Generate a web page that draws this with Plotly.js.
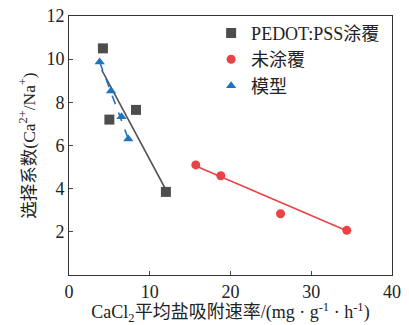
<!DOCTYPE html>
<html><head><meta charset="utf-8">
<script src="https://cdn.plot.ly/plotly-3.0.1.min.js"></script>
<style>body{margin:0;background:#fff}#c{width:409px;height:325px}</style>
</head><body><div id="c"></div>
<script>
// PEDOT:PSS coated
const pedotX = [4.2, 5.0, 8.3, 12.0];
const pedotY = [10.5, 7.2, 7.65, 3.85];
const pedotFitX = [4.05, 12.0];
const pedotFitY = [9.5, 3.95];
// uncoated
const uncoatedX = [15.7, 18.8, 26.2, 34.4];
const uncoatedY = [5.1, 4.6, 2.84, 2.07];
const uncoatedFitX = [15.7, 34.4];
const uncoatedFitY = [5.05, 2.05];
// model
const modelX = [3.8, 5.2, 6.5, 7.35];
const modelY = [9.87, 8.53, 7.33, 6.3];
const modelFitX = [3.8, 7.35];
const modelFitY = [9.87, 6.3];

const names = ['PEDOT:PSS涂覆', '未涂覆', '模型'];
const xTicks = [0, 10, 20, 30, 40];
const yTicks = [2, 4, 6, 8, 10, 12];

const gray = '#4d4d4d', red = '#ea4245', blue = '#1f74c2';
const F = '"Liberation Serif", "Times New Roman", "Noto Sans CJK SC", serif';

const traces = [
  {x: pedotFitX, y: pedotFitY, mode: 'lines', line: {color: '#555555', width: 1.6}, showlegend: false},
  {x: uncoatedFitX, y: uncoatedFitY, mode: 'lines', line: {color: red, width: 1.6}, showlegend: false},
  {x: modelFitX, y: modelFitY, mode: 'lines', line: {color: blue, width: 1.6, dash: 'dash'}, showlegend: false},
  {x: pedotX, y: pedotY, mode: 'markers', name: names[0], marker: {symbol: 'square', size: 10, color: gray}},
  {x: uncoatedX, y: uncoatedY, mode: 'markers', name: names[1], marker: {symbol: 'circle', size: 9, color: red}},
  {x: modelX, y: modelY, mode: 'markers', name: names[2], marker: {symbol: 'triangle-up', size: 9, color: blue}}
];

const layout = {
  width: 409, height: 325,
  margin: {l: 69, r: 17, t: 16, b: 50},
  paper_bgcolor: '#fff', plot_bgcolor: '#fff',
  font: {family: F, size: 17, color: '#222'},
  showlegend: true,
  legend: {x: 0.44, y: 1.005, xanchor: 'left', yanchor: 'top', bgcolor: 'rgba(0,0,0,0)',
           font: {family: F, size: 18, color: '#222'}, itemwidth: 30, tracegroupgap: 0},
  xaxis: {range: [0, 40], tickvals: xTicks, ticktext: xTicks.map(String), ticks: 'inside', ticklen: 4,
          showline: true, linecolor: '#333', linewidth: 1, mirror: true, showgrid: false, zeroline: false,
          tickfont: {family: F, size: 18, color: '#222'},
          title: {text: 'CaCl<sub>2</sub>平均盐吸附速率/(mg · g<sup>-1</sup> · h<sup>-1</sup>)', standoff: 3,
                  font: {family: F, size: 18, color: '#222'}}},
  yaxis: {range: [0, 12], tickvals: yTicks, ticktext: yTicks.map(String), ticks: 'inside', ticklen: 4,
          showline: true, linecolor: '#333', linewidth: 1, mirror: true, showgrid: false, zeroline: false,
          tickfont: {family: F, size: 18, color: '#222'},
          title: {text: '选择系数(Ca<sup>2+</sup>/Na<sup>+</sup>)', standoff: 6,
                  font: {family: F, size: 17.5, color: '#222'}}}
};
Plotly.newPlot('c', traces, layout, {displayModeBar: false, staticPlot: true});
</script></body></html>
